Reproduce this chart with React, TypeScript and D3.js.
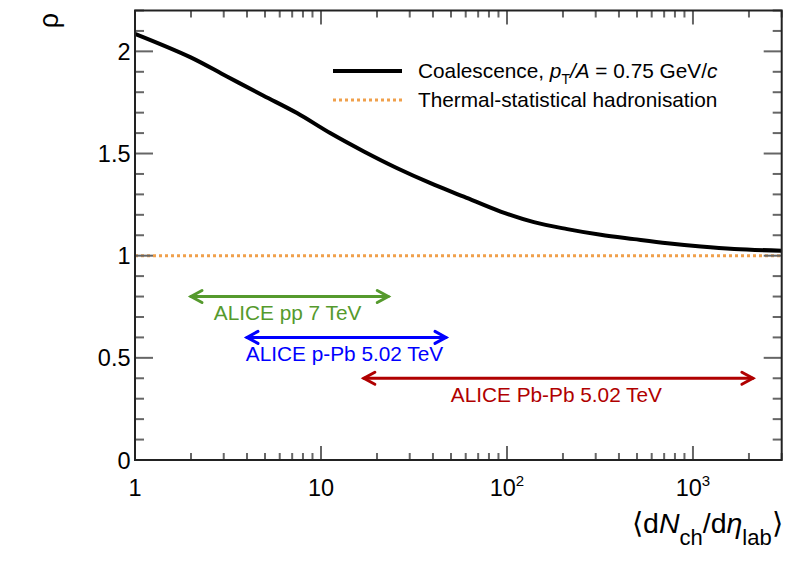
import React from "react";
import * as d3 from "d3";

// coalescence curve
const coalX = [1, 1.98, 3.12, 4.91, 7.43, 11.2, 17, 25.7, 38.8, 58.6, 92.4, 139.6, 211, 319, 482, 730, 1103, 1667, 3000];
const coalRho = [2.086, 1.972, 1.877, 1.783, 1.698, 1.6, 1.51, 1.428, 1.355, 1.289, 1.216, 1.164, 1.13, 1.102, 1.081, 1.061, 1.045, 1.033, 1.024];

// thermal-statistical value
const thermalRho = 1;

// multiplicity ranges of the ALICE data sets
const rangeLabels = ["ALICE pp 7 TeV", "ALICE p-Pb 5.02 TeV", "ALICE Pb-Pb 5.02 TeV"];
const rangeLo = [2, 4, 17];
const rangeHi = [23, 47, 2100];
const rangeRho = [0.8, 0.6, 0.4];
const rangeColors = ["#559a2d", "#0000ff", "#b00000"];

const yMajor = [0, 0.5, 1, 1.5, 2];
const yMajorLabels = ["0", "0.5", "1", "1.5", "2"];
const xMajor = [1, 10, 100, 1000];

const W = 798;
const H = 575;
const margin = { top: 10.5, right: 16.3, bottom: 115, left: 135 };
const innerW = W - margin.left - margin.right;
const innerH = H - margin.top - margin.bottom;

const font = "'Liberation Sans', Arial, Helvetica, sans-serif";

const x = d3.scaleLog().domain([1, 3000]).range([0, innerW]);
const y = d3.scaleLinear().domain([0, 2.2]).range([innerH, 0]);

const xMinor: number[] = [];
for (let dec = 1; dec <= 1000; dec *= 10) {
  for (let k = 2; k <= 9; k++) {
    const v = dec * k;
    if (v <= 3000) xMinor.push(v);
  }
}
const yMinor = d3.range(0, 23).map((i) => i / 10).filter((v) => !yMajor.some((m) => Math.abs(m - v) < 1e-6));

const axisColor = "#222";
const tickColor = "#666";

function XTickLabel({ v }: { v: number }) {
  const e = Math.round(Math.log10(v));
  const px = x(v);
  if (e <= 1) {
    return (
      <text x={px} y={innerH + 35.5} textAnchor="middle" fontSize={23.5}>
        {e === 0 ? "1" : "10"}
      </text>
    );
  }
  return (
    <text x={px} y={innerH + 35.5} textAnchor="middle" fontSize={23.5}>
      10
      <tspan fontSize={15} dy={-10}>
        {e}
      </tspan>
    </text>
  );
}

function Arrow({ x1, x2, yy, color }: { x1: number; x2: number; yy: number; color: string }) {
  const hl = 11;
  const hw = 6;
  return (
    <g stroke={color} strokeWidth={3} fill="none" strokeLinecap="round" strokeLinejoin="miter">
      <line x1={x1} x2={x2} y1={yy} y2={yy} />
      <polyline points={`${x1 + hl},${yy - hw} ${x1},${yy} ${x1 + hl},${yy + hw}`} />
      <polyline points={`${x2 - hl},${yy - hw} ${x2},${yy} ${x2 - hl},${yy + hw}`} />
    </g>
  );
}

export default function App() {
  const line = d3
    .line<number>()
    .x((_, i) => x(coalX[i]))
    .y((d) => y(d))
    .curve(d3.curveCatmullRom.alpha(0.5));

  return (
    <svg
      width={W}
      height={H}
      style={{ position: "absolute", left: 0, top: 0, background: "#fff" }}
      fontFamily={font}
    >
      <g transform={`translate(${margin.left},${margin.top})`}>
        {/* thermal line */}
        <line
          x1={0}
          x2={innerW}
          y1={y(thermalRho)}
          y2={y(thermalRho)}
          stroke="#f0a04b"
          strokeWidth={3}
          strokeDasharray="3 3"
        />
        {/* coalescence curve */}
        <path d={line(coalRho) || ""} fill="none" stroke="#000" strokeWidth={4} />

        {/* ALICE ranges */}
        {rangeLabels.map((lab, i) => {
          const x1 = x(rangeLo[i]);
          const x2 = x(rangeHi[i]);
          const yy = y(rangeRho[i]);
          return (
            <g key={lab}>
              <Arrow x1={x1} x2={x2} yy={yy} color={rangeColors[i]} />
              <text x={(x1 + x2) / 2 - 2} y={yy + 23.5} textAnchor="middle" fontSize={20.8} fill={rangeColors[i]}>
                {lab}
              </text>
            </g>
          );
        })}

        {/* ticks */}
        <g stroke={tickColor} strokeWidth={2}>
          {xMajor.map((v) => (
            <g key={"xM" + v}>
              <line x1={x(v)} x2={x(v)} y1={innerH} y2={innerH - 14} />
              <line x1={x(v)} x2={x(v)} y1={0} y2={14} />
            </g>
          ))}
          {xMinor.map((v) => (
            <g key={"xm" + v}>
              <line x1={x(v)} x2={x(v)} y1={innerH} y2={innerH - 7} />
              <line x1={x(v)} x2={x(v)} y1={0} y2={7} />
            </g>
          ))}
          {yMajor.map((v) => (
            <g key={"yM" + v}>
              <line x1={0} x2={18} y1={y(v)} y2={y(v)} />
              <line x1={innerW} x2={innerW - 18} y1={y(v)} y2={y(v)} />
            </g>
          ))}
          {yMinor.map((v) => (
            <g key={"ym" + v}>
              <line x1={0} x2={9} y1={y(v)} y2={y(v)} />
              <line x1={innerW} x2={innerW - 9} y1={y(v)} y2={y(v)} />
            </g>
          ))}
        </g>

        {/* frame */}
        <rect x={0} y={0} width={innerW} height={innerH} fill="none" stroke={axisColor} strokeWidth={2} />

        {/* tick labels */}
        {yMajor.map((v, i) => (
          <text key={"yl" + v} x={-4.5} y={y(v) + 8.5} textAnchor="end" fontSize={23.5}>
            {yMajorLabels[i]}
          </text>
        ))}
        {xMajor.map((v) => (
          <XTickLabel key={"xl" + v} v={v} />
        ))}

        {/* axis titles */}
        <text x={innerW + 1} y={innerH + 73} textAnchor="end" fontSize={28.5}>
          ⟨d<tspan fontStyle="italic">N</tspan>
          <tspan fontSize={22} dy={12}>ch</tspan>
          <tspan dy={-12}>/d</tspan>
          <tspan fontStyle="italic">η</tspan>
          <tspan fontSize={22} dy={12}>lab</tspan>
          <tspan dy={-12}>⟩</tspan>
        </text>
        <text transform={`translate(${58 - margin.left},${13 - margin.top}) rotate(-90)`} textAnchor="end" fontSize={27}>
          ρ
        </text>

        {/* legend */}
        <g transform={`translate(${333 - margin.left},${71 - margin.top})`}>
          <line x1={0} x2={69} y1={0} y2={0} stroke="#000" strokeWidth={4} />
          <text x={85} y={7} fontSize={20.8}>
            Coalescence, <tspan fontStyle="italic">p</tspan>
            <tspan fontSize={14} dy={6}>T</tspan>
            <tspan dy={-6} fontStyle="italic">/A</tspan> = 0.75 GeV/<tspan fontStyle="italic">c</tspan>
          </text>
          <line x1={0} x2={69} y1={29} y2={29} stroke="#f0a04b" strokeWidth={3} strokeDasharray="3 3" />
          <text x={85} y={36} fontSize={20.8}>
            Thermal-statistical hadronisation
          </text>
        </g>
      </g>
    </svg>
  );
}
